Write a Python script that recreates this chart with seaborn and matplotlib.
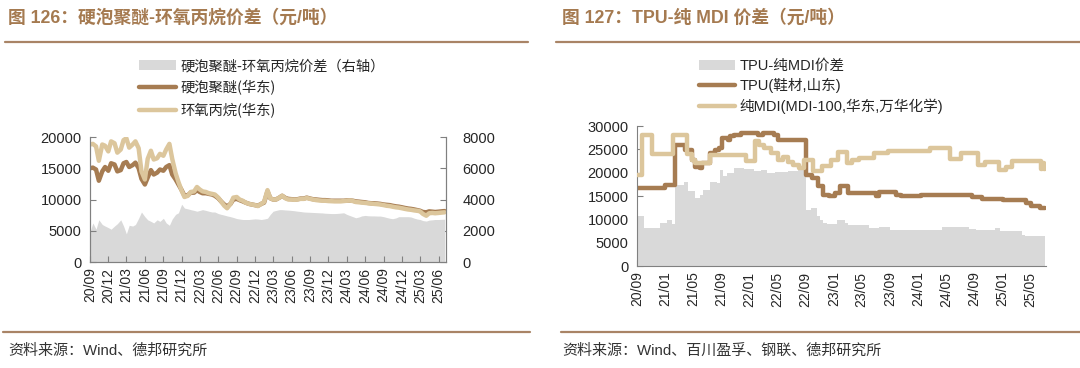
import matplotlib
matplotlib.use("Agg")
import matplotlib.pyplot as plt
import matplotlib.dates as mdates
from matplotlib.lines import Line2D
from matplotlib.patches import Patch
import seaborn as sns
import pandas as pd

# ---------------- data: left chart (semi-monthly from 2020-09) ----------------
po_price = [  # 环氧丙烷(华东)
    18800, 18900, 18500, 16200, 18800, 18600, 17700, 19300, 19000, 17500,
    18000, 19500, 19800, 18300, 18800, 19300, 18200, 14500, 13200, 16500,
    17800, 16400, 16600, 17300, 17000, 18000, 18900, 16500, 14200, 12800,
    11400, 10400, 10600, 11200, 11300, 12000, 11600, 11300, 11200, 11000,
    10900, 10800, 10300, 9700, 9000, 8600, 9300, 10300, 10400, 10000,
    9800, 9500, 9300, 9200, 9100, 8950, 9300, 9600, 11500, 10200,
    10000, 10000, 10300, 10600, 10200, 10000, 10000, 9950, 10000, 10100,
    10100, 10250, 10100, 10000, 9900, 9850, 9800, 9800, 9750, 9730,
    9700, 9700, 9700, 9750, 9800, 9850, 9750, 9600, 9550, 9500,
    9450, 9400, 9350, 9300, 9250, 9200, 9100, 9000, 8950, 8850,
    8750, 8700, 8600, 8500, 8400, 8350, 8250, 8200, 8100, 7700,
    7400, 7800, 7850, 7800, 7850, 7900, 7950]
polyether_price = [  # 硬泡聚醚(华东)
    15000, 15100, 14800, 13000, 14500, 15200, 14600, 15800, 15600, 14500,
    14700, 15800, 16000, 15200, 15500, 15900, 15000, 13300, 12400, 13500,
    14700, 14000, 14300, 14800, 14600, 15200, 15500, 14000, 13200, 12400,
    11500, 10600, 10700, 11100, 11100, 11500, 11200, 11000, 11000, 10900,
    10800, 10600, 10200, 9700, 9200, 8900, 9300, 10000, 10100, 9900,
    9700, 9500, 9300, 9200, 9100, 9000, 9300, 9500, 11300, 10200,
    10000, 10000, 10300, 10600, 10250, 10100, 10050, 10000, 10050, 10150,
    10150, 10300, 10150, 10050, 10000, 9950, 9900, 9900, 9850, 9800,
    9800, 9800, 9800, 9800, 9850, 9850, 9800, 9700, 9650, 9600,
    9550, 9450, 9400, 9400, 9350, 9300, 9200, 9150, 9100, 9000,
    8900, 8850, 8750, 8650, 8550, 8500, 8400, 8300, 8200, 8000,
    7950, 8100, 8050, 8000, 8050, 8100, 8150]
left_spread = [  # 价差 (右轴)
    1900, 2500, 2100, 2700, 2400, 2300, 2200, 2100, 2300, 2450,
    2700, 2300, 1800, 2350, 2300, 2400, 2800, 3200, 2900, 2700,
    2600, 2500, 2700, 2600, 2800, 2500, 2350, 2750, 3050, 3150,
    3700, 3450, 3400, 3350, 3300, 3250, 3300, 3350, 3300, 3250,
    3200, 3200, 3100, 3050, 3000, 2950, 2900, 2850, 2780, 2750,
    2720, 2720, 2720, 2740, 2760, 2750, 2720, 2750, 2800, 3050,
    3250, 3300, 3350, 3350, 3330, 3320, 3300, 3280, 3250, 3230,
    3200, 3190, 3180, 3170, 3160, 3150, 3140, 3120, 3110, 3100,
    3100, 3110, 3130, 3150, 3050, 2980, 2900, 2830, 2880, 2950,
    2980, 2960, 2950, 2950, 2940, 2940, 2900, 2850, 2800, 2770,
    2820, 2900, 2900, 2900, 2900, 2880, 2800, 2750, 2720, 2650,
    2620, 2680, 2700, 2720, 2720, 2730, 2740]
n_left = min(len(po_price), len(polyether_price), len(left_spread))
left_dates = pd.date_range("2020-09-01", periods=n_left, freq="SMS")

# ---------------- data: right chart (step change points) ----------------
mdi_dates = ["2020-09-01", "2020-09-24", "2020-11-03", "2021-02-06", "2021-04-07",
             "2021-04-25", "2021-05-10", "2021-07-15", "2021-12-15", "2022-01-25",
             "2022-02-12", "2022-03-05", "2022-04-03", "2022-05-03", "2022-05-28",
             "2022-06-18", "2022-07-10", "2022-08-03", "2022-08-25", "2022-10-01",
             "2022-11-10", "2022-12-20", "2023-01-20", "2023-02-28", "2023-03-20",
             "2023-04-20", "2023-06-25", "2023-08-25", "2024-02-20", "2024-05-20",
             "2024-07-05", "2024-09-18", "2024-10-18", "2024-12-15", "2025-01-15",
             "2025-02-12", "2025-06-16", "2025-06-22", "2025-06-28", "2025-07-05"]
mdi_price = [19600, 28000, 24100, 28000, 24000,
             22700, 22000, 23800, 22400, 26700,
             26000, 25200, 24200, 22700, 23300,
             22300, 21600, 21000, 22800, 20300,
             21400, 22700, 24500, 22100, 22800,
             23200, 24300, 24650, 25200, 22900,
             24200, 21700, 22200, 20500, 21300,
             22400, 20800, 22000, 20700, 20700]

tpu_dates = ["2020-09-01", "2021-01-01", "2021-02-13", "2021-03-28", "2021-04-25",
             "2021-05-10", "2021-06-01", "2021-06-10", "2021-07-15", "2021-08-06",
             "2021-08-21", "2021-09-04", "2021-09-28", "2021-10-10", "2021-10-25",
             "2021-11-24", "2022-02-06", "2022-02-28", "2022-04-18", "2022-05-03",
             "2022-09-04", "2022-09-28", "2022-10-25", "2022-11-15", "2022-12-10",
             "2023-01-07", "2023-01-28", "2023-03-03", "2023-07-01", "2023-07-15",
             "2023-09-28", "2023-10-18", "2024-01-15", "2024-08-21", "2024-10-03",
             "2025-01-01", "2025-04-12", "2025-05-03", "2025-06-10", "2025-07-05"]
tpu_price = [16700, 17400, 25950, 24900, 22700,
             21300, 21000, 22000, 24200, 24900,
             25200, 27400, 27000, 27800, 28100,
             28400, 28100, 28400, 28000, 27000,
             19500, 18800, 17100, 15300, 14900,
             15600, 17100, 15600, 14900, 15800,
             15300, 15100, 15300, 14800, 14400,
             14100, 13500, 12900, 12500, 12500]

gap_dates = ["2020-09-01", "2020-10-03", "2020-12-10", "2021-01-10", "2021-02-01",
             "2021-02-13", "2021-03-25", "2021-04-10", "2021-05-10", "2021-06-01",
             "2021-06-15", "2021-07-15", "2021-08-15", "2021-08-28", "2021-09-10",
             "2021-09-25", "2021-10-25", "2021-12-10", "2022-01-20", "2022-02-20",
             "2022-03-20", "2022-04-20", "2022-06-15", "2022-08-01", "2022-09-04",
             "2022-09-25", "2022-10-20", "2022-11-01", "2022-11-15", "2022-12-01",
             "2023-01-15", "2023-02-20", "2023-03-05", "2023-06-01", "2023-07-15",
             "2023-09-01", "2024-04-15", "2024-08-10", "2024-09-10", "2024-12-01",
             "2024-12-20", "2025-03-25", "2025-04-10", "2025-07-05"]
gap_value = [10700, 8200, 9200, 9900, 8900,
             17400, 17900, 16000, 14600, 15200,
             16300, 18100, 17800, 20600, 19200,
             19900, 21000, 20800, 20300, 20500,
             19900, 20100, 20300, 20600, 12100,
             12400, 10700, 9950, 9200, 9100,
             9950, 9200, 8700, 8200, 8400,
             7800, 8400, 8000, 7800, 8100,
             7600, 6750, 6400, 6400]

left_ticks = pd.date_range("2020-09-01", "2025-06-01", freq="3MS")
right_ticks = pd.date_range("2020-09-01", "2025-05-01", freq="4MS")

# ---------------- style ----------------
DARK = "#a67c52"
LIGHT = "#dcc69c"
GRAY = "#d9d9d9"
BROWN_TXT = "#a57a50"
RULE = "#a98466"
SPINE = "#808080"

sns.set_theme(style="white")
plt.rcParams['font.family'] = ['Liberation Sans', 'Noto Sans CJK SC', 'DejaVu Sans']
plt.rcParams['axes.unicode_minus'] = False
CJK = ['Noto Sans CJK SC', 'DejaVu Sans']

W, H = 1080, 368
fig = plt.figure(figsize=(W / 100, H / 100), dpi=100)
fig.patch.set_facecolor("white")


def fx(px):
    return px / W


def fy(py):
    return 1 - py / H


def style_axes(ax):
    for s in ax.spines.values():
        s.set_color(SPINE)
        s.set_linewidth(0.8)
    ax.spines['top'].set_visible(False)


# ---------------- left chart ----------------
ax1 = fig.add_axes([fx(90), fy(262), fx(446 - 90), (262 - 137) / H])
ax1r = ax1.twinx()

df_left = pd.DataFrame({"date": left_dates[:n_left],
                        "polyether": polyether_price[:n_left],
                        "po": po_price[:n_left],
                        "spread": left_spread[:n_left]})

ax1r.fill_between(df_left["date"], 0, df_left["spread"], color=GRAY, lw=0)
sns.lineplot(data=df_left, x="date", y="polyether", ax=ax1, color=DARK, lw=3.2)
sns.lineplot(data=df_left, x="date", y="po", ax=ax1, color=LIGHT, lw=3.2)
ax1.set_zorder(ax1r.get_zorder() + 1)
ax1.patch.set_visible(False)

ax1.set_xlim(pd.Timestamp("2020-09-01"), pd.Timestamp("2025-07-08"))
ax1.set_ylim(0, 20000)
ax1r.set_ylim(0, 8000)
ax1.set_yticks(range(0, 20001, 5000))
ax1r.set_yticks(range(0, 8001, 2000))
ax1.set_xticks(left_ticks)
ax1.xaxis.set_major_formatter(mdates.DateFormatter("%y/%m"))
ax1.set_xlabel("")
ax1.set_ylabel("")
ax1r.set_ylabel("")
style_axes(ax1)
style_axes(ax1r)
ax1.tick_params(axis='x', direction='in', length=4, width=0.8, color=SPINE,
                labelsize=10, labelrotation=90, pad=4, bottom=True)
ax1.tick_params(axis='y', direction='in', length=4, width=0.8, color=SPINE,
                labelsize=10.5, pad=6, left=True)
ax1r.tick_params(axis='y', direction='in', length=4, width=0.8, color=SPINE,
                 labelsize=10.5, pad=12, right=True)
ax1.grid(False)
ax1r.grid(False)

# ---------------- right chart ----------------
ax2 = fig.add_axes([fx(637), fy(266), fx(1046 - 637), (266 - 126) / H])
df_gap = pd.DataFrame({"date": pd.to_datetime(gap_dates), "v": gap_value})
df_tpu = pd.DataFrame({"date": pd.to_datetime(tpu_dates), "v": tpu_price})
df_mdi = pd.DataFrame({"date": pd.to_datetime(mdi_dates), "v": mdi_price})

ax2.fill_between(df_gap["date"], 0, df_gap["v"], step="post", color=GRAY, lw=0, zorder=1)
sns.lineplot(data=df_mdi, x="date", y="v", ax=ax2, color=LIGHT, lw=3.2,
             drawstyle="steps-post", zorder=3)
sns.lineplot(data=df_tpu, x="date", y="v", ax=ax2, color=DARK, lw=3.2,
             drawstyle="steps-post", zorder=2)

ax2.set_xlim(pd.Timestamp("2020-09-01"), pd.Timestamp("2025-07-08"))
ax2.set_ylim(0, 30000)
ax2.set_yticks(range(0, 30001, 5000))
ax2.set_xticks(right_ticks)
ax2.xaxis.set_major_formatter(mdates.DateFormatter("%y/%m"))
ax2.set_xlabel("")
ax2.set_ylabel("")
style_axes(ax2)
ax2.spines['right'].set_visible(False)
ax2.tick_params(axis='x', direction='in', length=4, width=0.8, color=SPINE,
                labelsize=10, labelrotation=90, pad=4, bottom=True)
ax2.tick_params(axis='y', direction='in', length=4, width=0.8, color=SPINE,
                labelsize=10.5, pad=6, left=True)
ax2.grid(False)

# ---------------- legends ----------------
h_left = [Patch(facecolor=GRAY, edgecolor='none'),
          Line2D([], [], color=DARK, lw=3.2),
          Line2D([], [], color=LIGHT, lw=3.2)]
l_left = ["硬泡聚醚-环氧丙烷价差（右轴）", "硬泡聚醚(华东)", "环氧丙烷(华东)"]
fig.legend(h_left, l_left, loc="upper left", bbox_to_anchor=(fx(139), fy(59)),
           frameon=False, prop={'family': CJK, 'size': 10.3}, handlelength=2.6,
           handleheight=0.7, handletextpad=0.3, labelspacing=0.52,
           borderpad=0, borderaxespad=0)

h_right = [Patch(facecolor=GRAY, edgecolor='none'),
           Line2D([], [], color=DARK, lw=3.2),
           Line2D([], [], color=LIGHT, lw=3.2)]
l_right = ["TPU-纯MDI价差", "TPU(鞋材,山东)", "纯MDI(MDI-100,华东,万华化学)"]
fig.legend(h_right, l_right, loc="upper left", bbox_to_anchor=(fx(699), fy(59)),
           frameon=False, prop={'family': ['Liberation Sans', 'Noto Sans CJK SC'], 'size': 10.5},
           handlelength=2.5, handleheight=0.7, handletextpad=0.3, labelspacing=0.36,
           borderpad=0, borderaxespad=0)

# ---------------- titles, rules, sources ----------------
fig.text(fx(8), fy(18), "图 126：硬泡聚醚-环氧丙烷价差（元/吨）", fontsize=12.8,
         fontweight='bold', color=BROWN_TXT, va='center', ha='left')
fig.text(fx(562), fy(18), "图 127：TPU-纯 MDI 价差（元/吨）", fontsize=12.8,
         fontweight='bold', color=BROWN_TXT, va='center', ha='left')

fig.add_artist(Line2D([fx(5), fx(528)], [fy(42), fy(42)], color=RULE, lw=1.6))
fig.add_artist(Line2D([fx(556), fx(1080)], [fy(42), fy(42)], color=RULE, lw=1.6))
fig.add_artist(Line2D([fx(3), fx(530)], [fy(332), fy(332)], color=RULE, lw=1.6))
fig.add_artist(Line2D([fx(561), fx(1080)], [fy(332), fy(332)], color=RULE, lw=1.6))

fig.text(fx(8), fy(351), "资料来源：Wind、德邦研究所", fontsize=10.8,
         color="#333333", va='center', ha='left')
fig.text(fx(562), fy(351), "资料来源：Wind、百川盈孚、钢联、德邦研究所", fontsize=10.8,
         color="#333333", va='center', ha='left')

fig.savefig("out.png", dpi=100, facecolor="white")
